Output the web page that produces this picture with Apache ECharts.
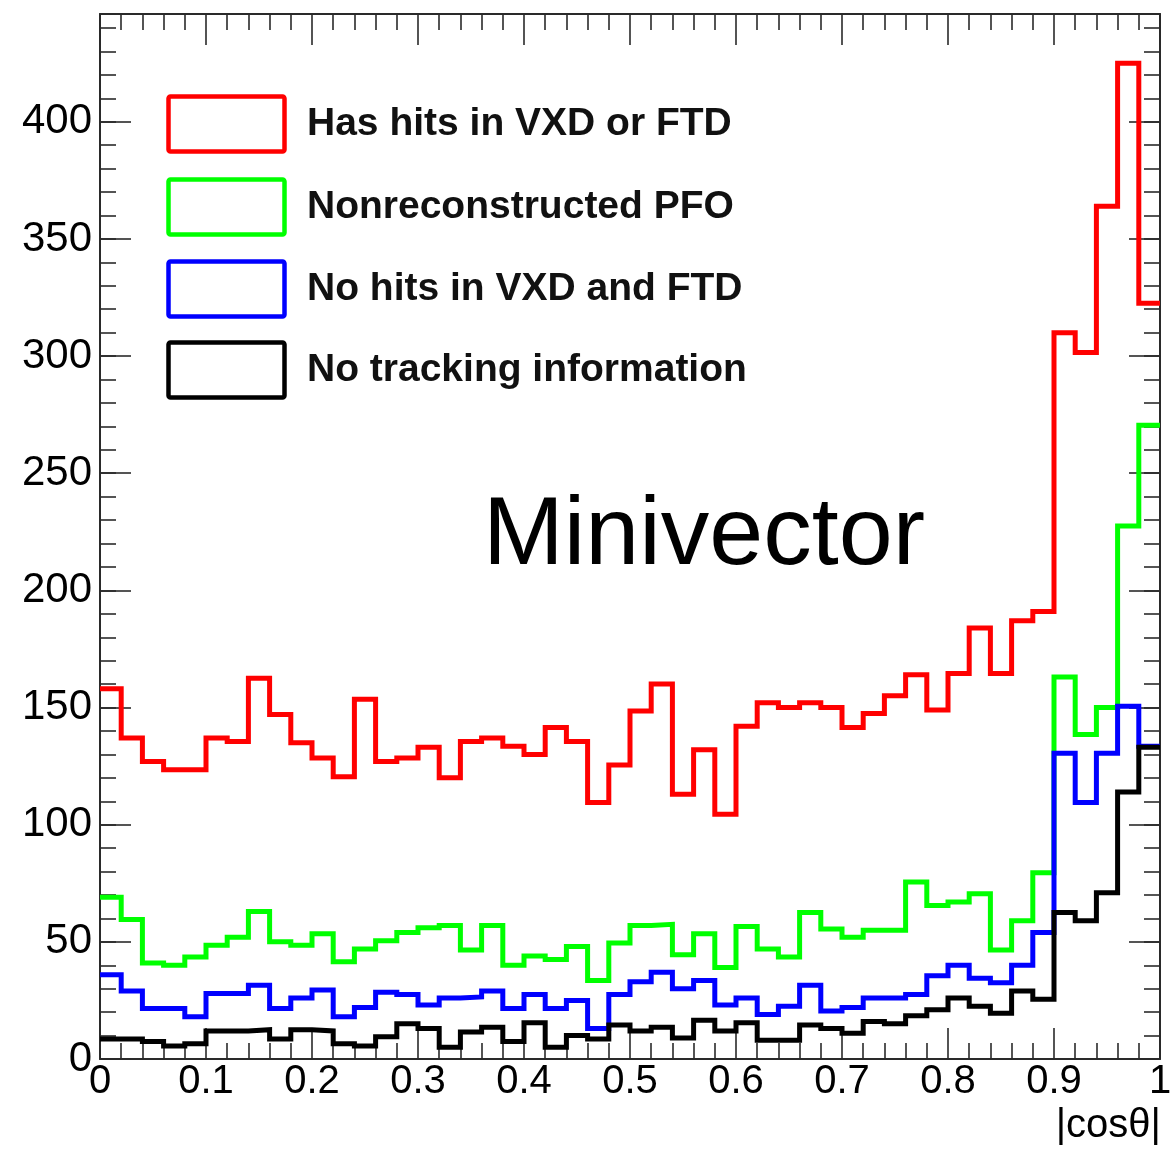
<!DOCTYPE html>
<html>
<head>
<meta charset="utf-8">
<script src="https://cdn.jsdelivr.net/npm/echarts@6/dist/echarts.min.js"></script>
<style>
html,body{margin:0;padding:0;background:#fff;}
#chart{width:1176px;height:1149px;}
</style>
</head>
<body>
<div id="chart"></div>
<script>
// Bin lower edges of |cos theta| (50 bins of width 0.02) plus the upper edge 1.0
const binEdges = [0,0.02,0.04,0.06,0.08,0.10,0.12,0.14,0.16,0.18,
  0.20,0.22,0.24,0.26,0.28,0.30,0.32,0.34,0.36,0.38,
  0.40,0.42,0.44,0.46,0.48,0.50,0.52,0.54,0.56,0.58,
  0.60,0.62,0.64,0.66,0.68,0.70,0.72,0.74,0.76,0.78,
  0.80,0.82,0.84,0.86,0.88,0.90,0.92,0.94,0.96,0.98,1.00];

const seriesNames = ["Has hits in VXD or FTD","Nonreconstructed PFO","No hits in VXD and FTD","No tracking information"];
const seriesColors = ["#ff0000","#00ff00","#0000ff","#000000"];

const hasHits = [158,137,127,123.5,123.5,137,135.5,162.5,147,135,
  128.5,120.5,153.5,127,128.5,133,120,135.5,137,133.5,
  130,141.5,135.5,109.5,125.5,148.5,160,113,132,104.5,
  142,152,150,152,150,141.5,147.5,155,164,149,
  164.5,184,164.5,187,191,310,301.5,364,425,322.5];

const nonReco = [69,59.5,41,40,43.5,48.5,52,63,50,48.5,
  53.5,41.5,47,50.5,54,56,57,46.5,57,40,
  44,42.5,48,33.5,49.5,57,57.5,44.5,53.5,39,
  56.5,47,43.5,62.5,55.5,52,55,55,75.5,65.5,
  67,70.5,46.5,59,79.5,163,138.5,150,227.5,270.5];

const noHits = [36,29,21.5,21.5,18,28,28,31.5,21.5,26,
  29.5,18,22,28.5,27.5,23,26,26.5,29,21.5,
  27.5,21.5,25,13,27.5,33,37,30,33.5,23,
  26,19,22.5,31.5,20.5,22,26,26,27.5,35.5,
  40,34.5,32.5,40,54,130.5,109.5,130.5,150.5,133.5];

const noTracking = [8.5,8.5,7.5,5.5,6.5,12,12,12.5,8.5,12.5,
  12,6.5,5.5,9.5,15,13,5,11.5,13.5,7.5,
  15.5,5,10,8.5,14.5,12,13.5,9,16.5,12,
  15.5,8,8,14.5,13,11,16,15,18.5,21,
  26,22.5,19.5,29,25.5,62.5,59,71,114,133];

const xTickLabels = ["0","0.1","0.2","0.3","0.4","0.5","0.6","0.7","0.8","0.9","1"];
const yTickLabels = ["0","50","100","150","200","250","300","350","400"];
const xTitle = "|cos\u03B8|";
const annotation = "Minivector";

const allSeries = [hasHits, nonReco, noHits, noTracking];

function stepData(vals){
  const d = vals.map((v,i)=>[binEdges[i], v]);
  d.push([binEdges[binEdges.length-1], vals[vals.length-1]]);
  return d;
}

const FONT = "'Liberation Sans', Arial, Helvetica, sans-serif";
const frameColor = "#2a2a2a";

const chart = echarts.init(document.getElementById('chart'), null, {renderer:'canvas'});

const xLabelMap = {};
xTickLabels.forEach(t=>{ xLabelMap[Number(t).toFixed(2)] = t; });
const yLabelSet = new Set(yTickLabels);

const legendRows = [94, 177, 259, 340];
const graphics = [];
seriesNames.forEach((name,i)=>{
  graphics.push({type:'rect', left:166, top:legendRows[i], shape:{width:116,height:55, r:2},
    style:{fill:'none', stroke:seriesColors[i], lineWidth:4.5}, z:10});
  graphics.push({type:'text', x:307, y:legendRows[i]+30,
    style:{text:name, font:"bold 39px " + FONT, fill:'#111', verticalAlign:'middle', align:'left'}, z:10});
});
graphics.push({type:'text', x:704, y:537,
  style:{text:annotation, font:"97px " + FONT, fill:'#000', verticalAlign:'middle', align:'center'}, z:10});
graphics.push({type:'text', x:1161, y:1126,
  style:{text:xTitle, font:"40px " + FONT, fill:'#000', verticalAlign:'middle', align:'right'}, z:10});

const axisLineStyle = {show:true, onZero:false, lineStyle:{color:frameColor, width:2}};
const noLine = {show:false, onZero:false};
const tickStyle = {color:frameColor, width:1.6};

const option = {
  animation:false,
  textStyle:{fontFamily:FONT},
  grid:{left:100, top:14, right:16, bottom:90, containLabel:false},
  xAxis:[
    {type:'value', position:'bottom', min:0, max:1, interval:0.1,
     axisLine:axisLineStyle,
     axisTick:{show:true, inside:true, length:31, lineStyle:tickStyle},
     minorTick:{show:true, splitNumber:5, length:16, lineStyle:tickStyle},
     splitLine:{show:false},
     axisLabel:{show:true, fontSize:40, color:'#000', margin:3, fontFamily:FONT,
       formatter:(v)=> xLabelMap[v.toFixed(2)] || ''}},
    {type:'value', position:'top', min:0, max:1, interval:0.1,
     axisLine:axisLineStyle,
     axisTick:{show:true, inside:true, length:31, lineStyle:tickStyle},
     minorTick:{show:true, splitNumber:5, length:16, lineStyle:tickStyle},
     splitLine:{show:false}, axisLabel:{show:false}}
  ],
  yAxis:[
    {type:'value', position:'left', min:0, max:446, interval:50,
     axisLine:axisLineStyle,
     axisTick:{show:true, inside:true, length:31, lineStyle:tickStyle},
     splitLine:{show:false},
     axisLabel:{show:true, fontSize:42, color:'#000', margin:8, fontFamily:FONT, showMaxLabel:false,
       formatter:(v)=> yLabelSet.has(String(v)) ? String(v) : ''}},
    {type:'value', position:'left', min:0, max:446, interval:10,
     axisLine:noLine,
     axisTick:{show:true, inside:true, length:16, lineStyle:tickStyle},
     splitLine:{show:false}, axisLabel:{show:false}},
    {type:'value', position:'right', min:0, max:446, interval:50,
     axisLine:axisLineStyle,
     axisTick:{show:true, inside:true, length:31, lineStyle:tickStyle},
     splitLine:{show:false}, axisLabel:{show:false}},
    {type:'value', position:'right', min:0, max:446, interval:10,
     axisLine:noLine,
     axisTick:{show:true, inside:true, length:16, lineStyle:tickStyle},
     splitLine:{show:false}, axisLabel:{show:false}}
  ],
  series: allSeries.map((vals,i)=>({
    name:seriesNames[i], type:'line', step:'end', xAxisIndex:0, yAxisIndex:0,
    data:stepData(vals), symbol:'none', showSymbol:false,
    lineStyle:{color:seriesColors[i], width:5, join:'miter'},
    itemStyle:{color:seriesColors[i]},
    z:2+i
  })),
  graphic: graphics
};
chart.setOption(option);
</script>
</body>
</html>
